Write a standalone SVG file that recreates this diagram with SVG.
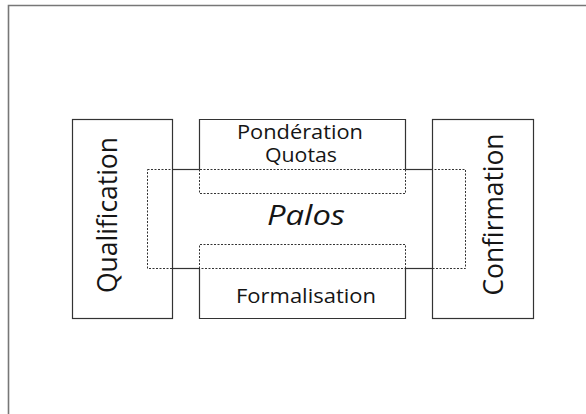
<svg xmlns="http://www.w3.org/2000/svg" width="586" height="414" viewBox="0 0 586 414">
  <style>
    .solid { fill: none; stroke: #333; stroke-width: 1.2; }
    .dash { fill: none; stroke: #333; stroke-width: 1; stroke-dasharray: 2 1.5; }
    .page { fill: none; stroke: #777; stroke-width: 1.6; }
    text { font-family: "Open Sans", "DejaVu Sans", sans-serif; fill: #151515; }
    .lbl { font-size: 20px; text-anchor: middle; }
    .vert { font-size: 28px; text-anchor: middle; }
  </style>
  <rect width="586" height="414" fill="#fff"/>
  <path class="page" d="M8.5,414 V5.5 H586"/>

  <g id="palos">
    <rect class="dash" x="147.5" y="169.5" width="318" height="99"/>
    <text x="306" y="224.5" font-size="27" font-style="italic" text-anchor="middle" textLength="78" lengthAdjust="spacingAndGlyphs">Palos</text>
  </g>

  <g id="qualification">
    <rect class="solid" x="72.5" y="119.5" width="100" height="199"/>
    <text class="vert" transform="translate(117,215) rotate(-90)" textLength="156" lengthAdjust="spacingAndGlyphs">Qualification</text>
  </g>

  <g id="confirmation">
    <rect class="solid" x="432.5" y="119.5" width="101" height="199"/>
    <text class="vert" transform="translate(503,214.5) rotate(-90)" textLength="162" lengthAdjust="spacingAndGlyphs">Confirmation</text>
  </g>

  <g id="ponderation">
    <path class="solid" d="M199.5,169.5 V119.5 H405.5 V169.5"/>
    <path class="dash" d="M199.5,169.5 V193.5 H405.5 V169.5"/>
    <text class="lbl" x="300" y="138.5" textLength="126" lengthAdjust="spacingAndGlyphs">Pondération</text>
    <text class="lbl" x="301" y="162" textLength="72" lengthAdjust="spacingAndGlyphs">Quotas</text>
  </g>

  <g id="formalisation">
    <path class="solid" d="M199.5,268.5 V318.5 H405.5 V268.5"/>
    <path class="dash" d="M199.5,268.5 V244.5 H405.5 V268.5"/>
    <text class="lbl" x="306" y="303" font-size="21" textLength="140" lengthAdjust="spacingAndGlyphs">Formalisation</text>
  </g>

  <g id="connectors">
    <line class="solid" x1="172.5" y1="169.5" x2="199.5" y2="169.5"/>
    <line class="solid" x1="172.5" y1="268.5" x2="199.5" y2="268.5"/>
    <line class="solid" x1="405.5" y1="169.5" x2="432.5" y2="169.5"/>
    <line class="solid" x1="405.5" y1="268.5" x2="432.5" y2="268.5"/>
  </g>
</svg>
